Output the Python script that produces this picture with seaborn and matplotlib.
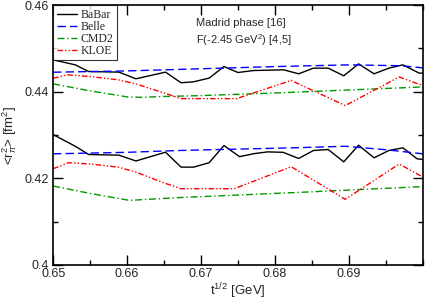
import numpy as np
import pandas as pd
import seaborn as sns
import matplotlib
matplotlib.use("Agg")
import matplotlib.pyplot as plt
from matplotlib.ticker import MultipleLocator

# ---- data ----
babar_up_t = [0.6500, 0.6530, 0.6548, 0.6589, 0.6612, 0.6652, 0.6673, 0.6690, 0.6711, 0.6731,
              0.6750, 0.6771, 0.6812, 0.6832, 0.6852, 0.6872, 0.6893, 0.6913, 0.6934, 0.6954,
              0.6973, 0.6995, 0.7000]
babar_up_r = [0.44735, 0.4462, 0.44466, 0.44452, 0.44298, 0.44452, 0.44206, 0.44229, 0.44314, 0.44581,
              0.44443, 0.44489, 0.44505, 0.44413, 0.44544, 0.44544, 0.44367, 0.44643, 0.44413, 0.44544,
              0.4462, 0.44429, 0.44429]

babar_lo_t = [0.6500, 0.6530, 0.6548, 0.6589, 0.6612, 0.6652, 0.6673, 0.6690, 0.6711, 0.6731,
              0.6752, 0.6772, 0.6790, 0.6811, 0.6832, 0.6852, 0.6872, 0.6893, 0.6913, 0.6934,
              0.6954, 0.6973, 0.6992, 0.7000]
babar_lo_r = [0.4301, 0.4274, 0.4255, 0.42534, 0.4240, 0.42603, 0.42258, 0.42258, 0.4236, 0.42757,
              0.4250, 0.4257, 0.4261, 0.4260, 0.42458, 0.42642, 0.42665, 0.4238, 0.42764, 0.42474,
              0.42642, 0.42704, 0.42451, 0.42435]

belle_up_t = [0.650, 0.660, 0.670, 0.680, 0.690, 0.697, 0.700]
belle_up_r = [0.4445, 0.4448, 0.4453, 0.4458, 0.4462, 0.4460, 0.4455]
belle_lo_t = [0.650, 0.660, 0.667, 0.6825, 0.6895, 0.695, 0.700]
belle_lo_r = [0.42565, 0.4260, 0.42642, 0.42704, 0.4274, 0.4266, 0.42565]

cmd2_up_t = [0.650, 0.655, 0.660, 0.662, 0.665, 0.670, 0.680, 0.690, 0.700]
cmd2_up_r = [0.4418, 0.4402, 0.4388, 0.4387, 0.4389, 0.4391, 0.4397, 0.4404, 0.4411]
cmd2_lo_t = [0.650, 0.655, 0.660, 0.6605, 0.667, 0.6843, 0.700]
cmd2_lo_r = [0.41822, 0.4165, 0.4150, 0.41492, 0.41554, 0.41683, 0.41808]

kloe_up_t = [0.650, 0.6519, 0.655, 0.6588, 0.6612, 0.665, 0.6673, 0.6748, 0.6822, 0.6895, 0.6968, 0.700]
kloe_up_r = [0.4431, 0.4439, 0.4435, 0.44275, 0.4418, 0.4397, 0.4384, 0.4384, 0.4426, 0.4368, 0.4434, 0.4414]
kloe_lo_t = [0.650, 0.6521, 0.655, 0.6588, 0.6612, 0.6649, 0.6673, 0.6745, 0.6822, 0.6895, 0.6968, 0.700]
kloe_lo_r = [0.42221, 0.4236, 0.4233, 0.42258, 0.42143, 0.41899, 0.4176, 0.4176, 0.42267, 0.41515, 0.4233, 0.42028]

x_ticks = [0.65, 0.66, 0.67, 0.68, 0.69]
y_ticks = [0.40, 0.42, 0.44, 0.46]
y_tick_labels = ["0.4", "0.42", "0.44", "0.46"]

sns.set_style("ticks")
plt.rcParams['font.family'] = ['Liberation Sans', 'DejaVu Sans']
plt.rcParams['mathtext.fontset'] = 'custom'
plt.rcParams['mathtext.rm'] = 'Liberation Sans'
plt.rcParams['mathtext.it'] = 'Liberation Sans:italic'

fig = plt.figure(figsize=(4.25, 3.0), dpi=100)
ax = fig.add_axes([0.125, 0.117, 0.87, 0.866])

series = [
    ("BaBar", babar_up_t, babar_up_r, babar_lo_t, babar_lo_r, "black", (None, None)),
    ("Belle", belle_up_t, belle_up_r, belle_lo_t, belle_lo_r, "#0000ff", (6, 3)),
    ("CMD2", cmd2_up_t, cmd2_up_r, cmd2_lo_t, cmd2_lo_r, "#009900", (5, 2, 1, 2)),
    ("KLOE", kloe_up_t, kloe_up_r, kloe_lo_t, kloe_lo_r, "#ff0000", (4, 1.5, 1, 1.5, 1, 1.5)),
]

handles = []
for name, tu, ru, tl, rl, col, dash in series:
    for i, (t, r) in enumerate(((tu, ru), (tl, rl))):
        df = pd.DataFrame({"t": t, "r": r})
        sns.lineplot(data=df, x="t", y="r", ax=ax, color=col, lw=1.0,
                     sort=False, estimator=None, legend=False)
        ln = ax.lines[-1]
        if dash[0] is not None:
            ln.set_dashes(dash)
        if i == 0:
            handles.append((ln, name))

ax.set_xlim(0.65, 0.70)
ax.set_ylim(0.40, 0.46)
ax.set_xticks(x_ticks)
ax.set_xticklabels([f"{v:.2f}" for v in x_ticks])
ax.set_yticks(y_ticks)
ax.set_yticklabels(y_tick_labels)
ax.xaxis.set_minor_locator(MultipleLocator(0.005))
ax.yaxis.set_minor_locator(MultipleLocator(0.01))
ax.tick_params(which='both', direction='in', top=True, right=True, labelsize=9, color='black')
ax.tick_params(axis='x', which='both', pad=2)
ax.tick_params(axis='y', which='both', pad=3)
ax.tick_params(which='major', length=7, width=1)
ax.tick_params(which='minor', length=3.5, width=1)
for s in ax.spines.values():
    s.set_linewidth(1.2)
    s.set_color('black')

ax.set_xlabel(r"t$^{1/2}$ [GeV]", fontsize=9.5, labelpad=1)
ax.set_ylabel(r"<r$_\pi^2$> [fm$^2$]", fontsize=9.5, labelpad=4)

ax.text(0.386, 0.932, "Madrid phase [16]", transform=ax.transAxes, fontsize=8, va='center')
ax.text(0.386, 0.866, r"F(-2.45 GeV$^2$) [4,5]", transform=ax.transAxes, fontsize=8, va='center')

leg = ax.legend([h for h, _ in handles], [n for _, n in handles], loc='upper left',
                prop={'family': 'Liberation Serif', 'size': 8.5}, frameon=True, fancybox=False,
                edgecolor='black', borderaxespad=0.0, handlelength=1.7, handletextpad=0.3,
                labelspacing=0.0, borderpad=0.3)
leg.get_frame().set_linewidth(0.8)

fig.savefig("out.png", dpi=100)
